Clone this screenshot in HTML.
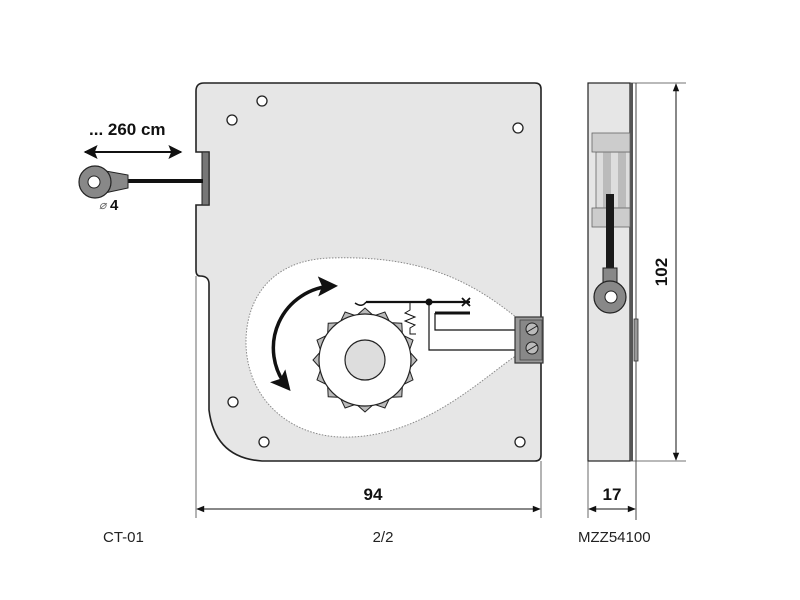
<!DOCTYPE html>
<html><head><style>body{margin:0;background:#fff}svg{display:block}text{font-family:"Liberation Sans",Arial,sans-serif}</style></head>
<body>
<svg width="800" height="600" viewBox="0 0 800 600" xmlns="http://www.w3.org/2000/svg">
<defs>
<marker id="ah" viewBox="0 0 10 10" refX="9" refY="5" markerWidth="16" markerHeight="14" markerUnits="userSpaceOnUse" orient="auto-start-reverse"><path d="M0,0 L10,5 L0,10 L2,5 z" fill="#111"/></marker>
<marker id="ab" viewBox="0 0 10 10" refX="8" refY="5" markerWidth="22" markerHeight="20" markerUnits="userSpaceOnUse" orient="auto-start-reverse"><path d="M0,0 L10,5 L0,10 L2,5 z" fill="#111"/></marker>
<marker id="as" viewBox="0 0 10 10" refX="9" refY="5" markerWidth="10" markerHeight="8" markerUnits="userSpaceOnUse" orient="auto-start-reverse"><path d="M0,1 L10,5 L0,9 z" fill="#111"/></marker>
</defs>
<!-- plate -->
<path d="M204 83 H535 Q541 83 541 89 V455 Q541 461 535 461 H262 Q215 458 209 410 V284 Q209 276 200 276 Q196 276 196 270 V205 H209 V152 H196 V91 Q196 83 204 83 Z" fill="#e6e6e6" stroke="#222" stroke-width="1.6"/>
<rect x="202" y="152" width="7" height="53" fill="#777" stroke="#222" stroke-width="1"/>
<!-- teardrop -->
<path d="M517 318 C470 280 420 255 330 258 C270 260 245 300 246 345 C248 400 290 435 340 437 C420 440 480 380 517 355 Z" fill="#fff" stroke="#888" stroke-width="1" stroke-dasharray="1.5 1.5"/>
<!-- holes -->
<g fill="#fff" stroke="#222" stroke-width="1.3">
<circle cx="262" cy="101" r="5"/><circle cx="232" cy="120" r="5"/><circle cx="518" cy="128" r="5"/>
<circle cx="233" cy="402" r="5"/><circle cx="264" cy="442" r="5"/><circle cx="520" cy="442" r="5"/>
</g>
<!-- gear -->
<polygon fill="#bbb" stroke="#222" stroke-width="1" points="417,360 409.1,368.8 413,379.9 402.4,385 401.8,396.8 390,397.4 384.9,408 373.8,404.1 365,412 356.2,404.1 345.1,408 340,397.4 328.2,396.8 327.6,385 317,379.9 320.9,368.8 313,360 320.9,351.2 317,340.1 327.6,335 328.2,323.2 340,322.6 345.1,312 356.2,315.9 365,308 373.8,315.9 384.9,312 390,322.6 401.8,323.2 402.4,335 413,340.1 409.1,351.2"/>
<circle cx="365" cy="360" r="46" fill="#fff" stroke="#222" stroke-width="1.2"/>
<circle cx="365" cy="360" r="20" fill="#ddd" stroke="#222" stroke-width="1.2"/>
<!-- rotation arrow -->
<path d="M288 388 A62 62 0 0 1 334 286" fill="none" stroke="#111" stroke-width="3.5" marker-start="url(#ab)" marker-end="url(#ab)"/>
<!-- switch -->
<path d="M355 303 Q362 308 366 302" fill="none" stroke="#111" stroke-width="1.5"/>
<line x1="366" y1="302" x2="470" y2="302" stroke="#111" stroke-width="2.2"/>
<path d="M462 298 L470 306 M462 306 L470 298" stroke="#111" stroke-width="1.8"/>
<circle cx="429" cy="302" r="3.5" fill="#111"/>
<line x1="435" y1="313" x2="470" y2="313" stroke="#111" stroke-width="3"/>
<polyline points="410,302 410,310 405,313 415,317 405,321 415,325 410,328 410,334 416,334" fill="none" stroke="#111" stroke-width="1"/>
<polyline points="435,313 435,330 517,330" fill="none" stroke="#111" stroke-width="1.2"/>
<polyline points="429,302 429,350 517,350" fill="none" stroke="#111" stroke-width="1.2"/>
<rect x="515" y="317" width="28" height="46" fill="#999" stroke="#333" stroke-width="1.2"/>
<rect x="520" y="320" width="22" height="40" fill="#888" stroke="#444" stroke-width="0.8"/>
<circle cx="532" cy="329" r="6" fill="#bbb" stroke="#222"/><line x1="527" y1="332" x2="537" y2="326" stroke="#222"/>
<circle cx="532" cy="348" r="6" fill="#bbb" stroke="#222"/><line x1="527" y1="351" x2="537" y2="345" stroke="#222"/>
<!-- cable & eye left -->
<line x1="125" y1="181" x2="203" y2="181" stroke="#111" stroke-width="4"/>
<path d="M100 170 L128 175 V188 L100 194 Z" fill="#888" stroke="#222"/>
<circle cx="95" cy="182" r="16" fill="#888" stroke="#222" stroke-width="1.2"/>
<circle cx="94" cy="182" r="6" fill="#fff" stroke="#222"/>
<text x="99" y="209" font-size="12" fill="#666" font-style="italic">⌀</text>
<text x="110" y="210" font-size="15" font-weight="bold" fill="#111">4</text>
<text x="89" y="135" font-size="17" font-weight="bold" fill="#111">... 260 cm</text>
<line x1="85" y1="152" x2="181" y2="152" stroke="#111" stroke-width="2" marker-start="url(#ah)" marker-end="url(#ah)"/>
<!-- side view -->
<rect x="588" y="83" width="42" height="378" fill="#e6e6e6" stroke="#222" stroke-width="1.2"/>
<rect x="630" y="83" width="3" height="378" fill="#555"/>
<line x1="636" y1="83" x2="636" y2="520" stroke="#444" stroke-width="1"/>
<rect x="634" y="319" width="4" height="42" fill="#999" stroke="#333" stroke-width="0.8"/>
<rect x="596" y="152" width="34" height="56" fill="#ddd" stroke="#666" stroke-width="0.8"/>
<rect x="603" y="152" width="8" height="56" fill="#bbb"/><rect x="618" y="152" width="8" height="56" fill="#bbb"/>
<rect x="592" y="133" width="38" height="19" fill="#ccc" stroke="#666" stroke-width="0.8"/>
<rect x="592" y="208" width="38" height="19" fill="#ccc" stroke="#666" stroke-width="0.8"/>
<rect x="606" y="194" width="8" height="80" fill="#1a1a1a"/>
<rect x="603" y="268" width="14" height="20" fill="#888" stroke="#222"/>
<circle cx="610" cy="297" r="16" fill="#888" stroke="#222" stroke-width="1.2"/>
<circle cx="611" cy="297" r="6" fill="#fff" stroke="#222"/>
<!-- 102 dim -->
<line x1="630" y1="83" x2="686" y2="83" stroke="#444" stroke-width="0.8"/>
<line x1="630" y1="461" x2="686" y2="461" stroke="#444" stroke-width="0.8"/>
<line x1="676" y1="84" x2="676" y2="460" stroke="#111" stroke-width="1" marker-start="url(#as)" marker-end="url(#as)"/>
<text x="0" y="0" font-size="17" font-weight="bold" fill="#111" transform="translate(667 272) rotate(-90)" text-anchor="middle">102</text>
<!-- 94 dim -->
<line x1="196" y1="276" x2="196" y2="518" stroke="#444" stroke-width="0.8"/>
<line x1="541" y1="461" x2="541" y2="518" stroke="#444" stroke-width="0.8"/>
<line x1="197" y1="509" x2="540" y2="509" stroke="#111" stroke-width="1" marker-start="url(#as)" marker-end="url(#as)"/>
<text x="373" y="500" font-size="17" font-weight="bold" fill="#111" text-anchor="middle">94</text>
<!-- 17 dim -->
<line x1="588" y1="461" x2="588" y2="518" stroke="#444" stroke-width="0.8"/>
<line x1="589" y1="509" x2="635" y2="509" stroke="#111" stroke-width="1" marker-start="url(#as)" marker-end="url(#as)"/>
<text x="612" y="500" font-size="17" font-weight="bold" fill="#111" text-anchor="middle">17</text>
<!-- labels -->
<text x="103" y="542" font-size="15" fill="#222">CT-01</text>
<text x="383" y="542" font-size="15" fill="#222" text-anchor="middle">2/2</text>
<text x="578" y="542" font-size="15" fill="#222">MZZ54100</text>
</svg>
</body></html>
